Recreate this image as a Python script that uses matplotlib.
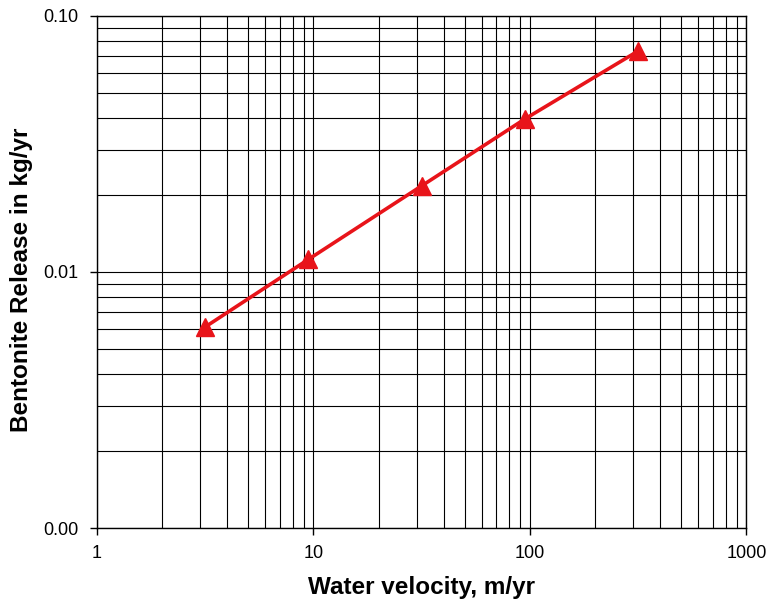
import matplotlib
matplotlib.use("Agg")
import matplotlib.pyplot as plt
from matplotlib.ticker import LogLocator, FixedLocator, FixedFormatter, NullFormatter

velocity = [3.16, 9.47, 31.6, 94.7, 316]
release = [0.0061, 0.0112, 0.0217, 0.0396, 0.0730]

x_ticks = [1, 10, 100, 1000]
x_labels = ["1", "10", "100", "1000"]
y_ticks = [0.001, 0.01, 0.1]
y_labels = ["0.00", "0.01", "0.10"]

plt.rcParams['font.family'] = ['Liberation Sans', 'DejaVu Sans']

fig = plt.figure(figsize=(7.68, 6.10), dpi=100)
ax = fig.add_axes([0.1263, 0.1344, 0.8457, 0.8394])
ax.set_xscale('log')
ax.set_yscale('log')
ax.set_xlim(1, 1000)
ax.set_ylim(0.001, 0.1)

ax.plot(velocity, release, color='#e8141a', linewidth=2.6, marker='^',
        markersize=13, markeredgecolor='#e8141a', markerfacecolor='#e8141a',
        zorder=5, clip_on=False)

ax.xaxis.set_major_locator(FixedLocator(x_ticks))
ax.xaxis.set_major_formatter(FixedFormatter(x_labels))
ax.yaxis.set_major_locator(FixedLocator(y_ticks))
ax.yaxis.set_major_formatter(FixedFormatter(y_labels))
ax.xaxis.set_minor_locator(LogLocator(base=10, subs=range(2, 10)))
ax.yaxis.set_minor_locator(LogLocator(base=10, subs=range(2, 10)))
ax.xaxis.set_minor_formatter(NullFormatter())
ax.yaxis.set_minor_formatter(NullFormatter())

ax.grid(True, which='both', color='black', linewidth=0.8)
ax.set_axisbelow(True)
ax.tick_params(which='major', direction='out', length=5, width=1, labelsize=13)
ax.tick_params(axis='x', which='major', pad=7)
ax.tick_params(axis='y', which='major', pad=8.5)
ax.tick_params(which='minor', length=0)
for s in ax.spines.values():
    s.set_color('black')
    s.set_linewidth(1)

ax.set_xlabel('Water velocity, m/yr', fontsize=17.5, fontweight='bold', labelpad=10)
ax.set_ylabel('Bentonite Release in kg/yr', fontsize=17.5, fontweight='bold')
ax.yaxis.set_label_coords(-0.098, 0.485)

fig.savefig('out.png', dpi=100)
